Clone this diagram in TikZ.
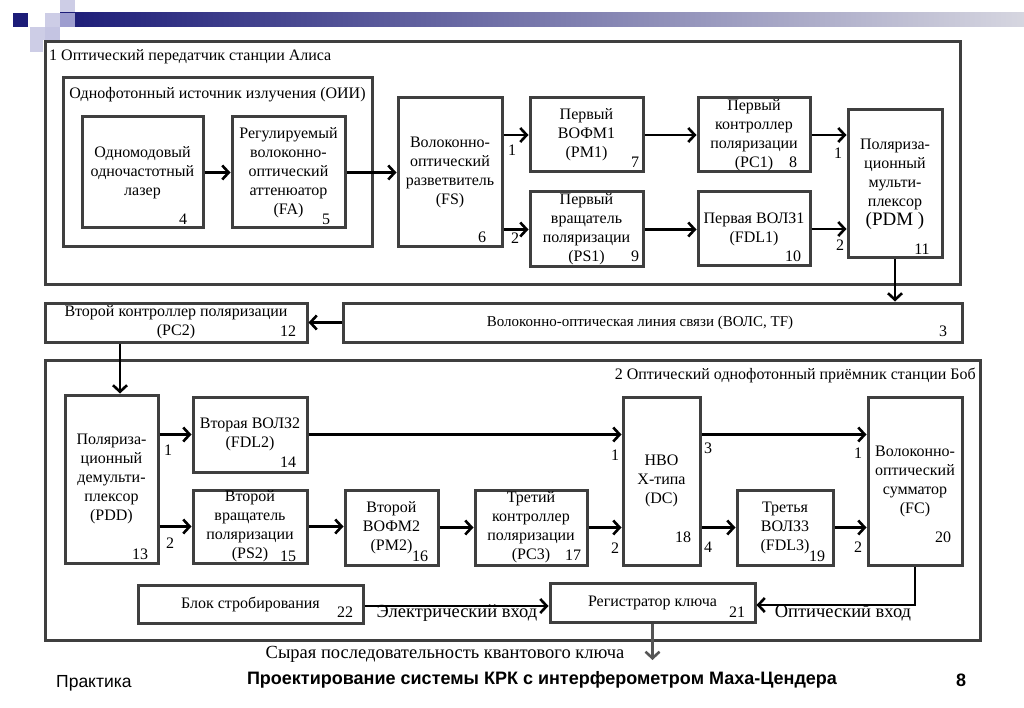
\documentclass[tikz,border=0pt]{standalone}
\usepackage{fontspec}
\setmainfont{Liberation Serif}
\newfontfamily\slidefont{Liberation Sans}
\usetikzlibrary{arrows.meta}

\definecolor{framegray}{HTML}{3F3F3F}
\definecolor{barnavy}{HTML}{1C1C78}
\definecolor{barpale}{HTML}{D6D6E0}
\definecolor{sqpale}{HTML}{CDCDE6}
\definecolor{sqmid}{HTML}{9D9DCF}
\definecolor{outgray}{HTML}{555555}

\begin{document}
\begin{tikzpicture}[x=1pt,y=-1pt,
        blk/.style={draw=framegray, line width=3pt, inner sep=0pt, align=center, font=\fontsize{16}{19}\selectfont},
        frame/.style={draw=framegray, line width=3pt, inner sep=0pt},
        txt/.style={inner sep=0pt, align=center, font=\fontsize{16}{17}\selectfont},
        big/.style={inner sep=0pt, font=\fontsize{18.5}{20}\selectfont},
        arr/.style={line width=2.6pt, -{Straight Barb[length=6.5pt,width=14pt]}}]

        \useasboundingbox (0,0) rectangle (1024,708);
        \fill[white] (0,0) rectangle (1024,708);

        \shade[left color=barnavy, right color=barpale] (60,13) rectangle (1024,27);
        \fill[barnavy] (13,13) rectangle (28,27);
        \fill[sqpale] (60,0) rectangle (75,12);
        \fill[sqpale] (45,13) rectangle (60,27);
        \fill[sqmid] (60,13) rectangle (75,27);
        \fill[sqpale] (30,27) rectangle (45,40);
        \fill[sqmid!60] (45,27) rectangle (60,40);
        \fill[sqpale] (30,40) rectangle (43,52);

        \node[frame, minimum width=915, minimum height=243] (alice) at (502.5, 163.5) {};
        \node[txt, anchor=west] (alicetitle) at (49, 57) {1 Оптический передатчик станции Алиса};
        \node[frame, minimum width=309, minimum height=169] (oii) at (217.5, 162.5) {};
        \node[txt] (oiititle) at (217.5, 95) {Однофотонный источник излучения (ОИИ)};

        \node[blk, minimum width=121, minimum height=111] (laser) at (142.5, 172.5) {Одномодовый\\одночастотный\\лазер};
        \node[blk, minimum width=113, minimum height=111] (fa) at (288.5, 172.5) {Регулируемый\\волоконно-\\оптический\\аттенюатор\\(FA)};
        \node[blk, minimum width=104, minimum height=149] (fs) at (450, 172.5) {Волоконно-\\оптический\\разветвитель\\(FS)};
        \node[blk, minimum width=113, minimum height=74] (pm1) at (586.5, 135) {Первый\\ВОФМ1\\(PM1)};
        \node[blk, minimum width=113, minimum height=75] (ps1) at (586.5, 229.5) {Первый\\вращатель\\поляризации\\(PS1)};
        \node[blk, minimum width=112, minimum height=74] (pc1) at (754, 135) {Первый\\контроллер\\поляризации\\(PC1)};
        \node[blk, minimum width=112, minimum height=74] (fdl1) at (754, 229) {Первая ВОЛЗ1\\(FDL1)};
        \node[blk, minimum width=94, minimum height=148] (pdm) at (895, 184) {Поляриза-\\ционный\\мульти-\\плексор\\{\fontsize{19}{19}\selectfont(PDM )}};

        \node[blk, minimum width=262, minimum height=39] (pc2) at (176, 322.5) {\fontsize{16}{17}\selectfont Второй контроллер поляризации\\(PC2)};
        \node[blk, minimum width=619, minimum height=39] (tf) at (652.5, 322.5) {\fontsize{15}{17}\selectfont\hspace*{-25pt}Волоконно-оптическая линия связи (ВОЛС, TF)};

        \node[frame, minimum width=935, minimum height=280] (bob) at (512.5, 500) {};
        \node[txt, anchor=east] (bobtitle) at (976, 375) {2 Оптический однофотонный приёмник станции Боб};

        \node[blk, minimum width=93, minimum height=168] (pdd) at (111.5, 479) {Поляриза-\\ционный\\демульти-\\плексор\\(PDD)};
        \node[blk, minimum width=114, minimum height=75] (fdl2) at (250, 434.5) {Вторая ВОЛЗ2\\(FDL2)};
        \node[blk, minimum width=114, minimum height=73] (ps2) at (250, 526.5) {Второй\\вращатель\\поляризации\\(PS2)};
        \node[blk, minimum width=93, minimum height=75] (pm2) at (391.5, 527.5) {Второй\\ВОФМ2\\(PM2)};
        \node[blk, minimum width=112, minimum height=75] (pc3) at (531, 527.5) {Третий\\контроллер\\поляризации\\(PC3)};
        \node[blk, minimum width=77, minimum height=168] (dc) at (661.5, 481) {НВО\\X-типа\\(DC)};
        \node[blk, minimum width=96, minimum height=75] (fdl3) at (785, 527.5) {Третья\\ВОЛЗ3\\(FDL3)};
        \node[blk, minimum width=94, minimum height=168] (fc) at (915, 481) {Волоконно-\\оптический\\сумматор\\(FC)};
        \node[blk, minimum width=205, minimum height=39] (reg) at (652.5, 602.5) {Регистратор ключа};
        \node[blk, minimum width=225, minimum height=38] (gate) at (250.5, 604) {Блок стробирования};

        \node[txt] (n4) at (183, 219) {4};
        \node[txt] (n5) at (326, 219) {5};
        \node[txt] (n6) at (482, 237) {6};
        \node[txt] (n7) at (635, 162) {7};
        \node[txt] (n9) at (635, 256) {9};
        \node[txt] (n8) at (793, 162) {8};
        \node[txt] (n10) at (793, 256) {10};
        \node[txt] (n11) at (922, 249) {11};
        \node[txt] (n12) at (288, 331) {12};
        \node[txt] (n3) at (943, 331) {3};
        \node[txt] (n13) at (140, 554) {13};
        \node[txt] (n14) at (288, 462) {14};
        \node[txt] (n15) at (288, 556) {15};
        \node[txt] (n16) at (420, 556) {16};
        \node[txt] (n17) at (573, 555) {17};
        \node[txt] (n18) at (683, 537) {18};
        \node[txt] (n19) at (817, 556) {19};
        \node[txt] (n20) at (943, 537) {20};
        \node[txt] (n21) at (737, 612) {21};
        \node[txt] (n22) at (345, 612) {22};

        \node[txt] (fsone) at (512, 150) {1};
        \node[txt] (fstwo) at (515, 238) {2};
        \node[txt] (pdmone) at (838, 153) {1};
        \node[txt] (pdmtwo) at (840, 245) {2};
        \node[txt] (pddone) at (168, 450) {1};
        \node[txt] (pddtwo) at (170, 543) {2};
        \node[txt] (dcone) at (615, 455) {1};
        \node[txt] (dctwo) at (615, 548) {2};
        \node[txt] (dcthree) at (708, 448) {3};
        \node[txt] (dcfour) at (708, 547) {4};
        \node[txt] (fcone) at (858, 453) {1};
        \node[txt] (fctwo) at (858, 547) {2};

        \draw[arr] (laser) -- (fa);
        \draw[arr] (fa) -- (fs);
        \draw[arr] (fs.east |- pm1) -- (pm1);
        \draw[arr] (fs.east |- ps1) -- (ps1);
        \draw[arr] (pm1) -- (pc1);
        \draw[arr] (ps1) -- (ps1 -| fdl1.west);
        \draw[arr] (pc1) -- (pc1 -| pdm.west);
        \draw[arr] (fdl1) -- (fdl1 -| pdm.west);
        \draw[arr] (pdm.south) -- (pdm.south |- tf.north);
        \draw[arr] (tf.west) -- (pc2.east);
        \draw[arr] ([xshift=8.5pt]pdd.north |- pc2.south) -- ([xshift=8.5pt]pdd.north);
        \draw[arr] (pdd.east |- fdl2) -- (fdl2);
        \draw[arr] (pdd.east |- ps2) -- (ps2);
        \draw[arr] (fdl2) -- (fdl2 -| dc.west);
        \draw[arr] (ps2) -- (ps2 -| pm2.west);
        \draw[arr] (pm2) -- (pc3);
        \draw[arr] (pc3) -- (pc3 -| dc.west);
        \draw[arr] (dc.east |- fdl2) -- (fdl2 -| fc.west);
        \draw[arr] (dc.east |- fdl3) -- (fdl3);
        \draw[arr] (fdl3) -- (fdl3 -| fc.west);
        \draw[arr] (fc.south) |- ([yshift=-2.5pt]reg.east);
        \draw[arr] ([yshift=-2pt]gate.east) -- ([yshift=-2pt]gate.east -| reg.west);

        \coordinate (keyout) at (652.5, 660);
        \draw[line width=2.6pt, draw=outgray, -{Straight Barb[length=6.5pt,width=14pt]}] (reg.south) -- (keyout);

        \node[big] (elin) at (457, 613) {Электрический вход};
        \node[big] (optin) at (843, 613) {Оптический вход};
        \node[big] (rawkey) at (445, 654) {Сырая последовательность квантового ключа};

        \node[inner sep=0pt, anchor=west, font=\slidefont\fontsize{17.5}{19}\selectfont] (practice) at (56, 683) {Практика};
        \node[inner sep=0pt, font=\slidefont\bfseries\fontsize{18}{20}\selectfont] (slidetitle) at (542, 680) {Проектирование системы КРК с интерферометром Маха-Цендера};
        \node[inner sep=0pt, font=\slidefont\bfseries\fontsize{18}{20}\selectfont] (pagenum) at (961, 680) {8};

    \end{tikzpicture}
\end{document}
